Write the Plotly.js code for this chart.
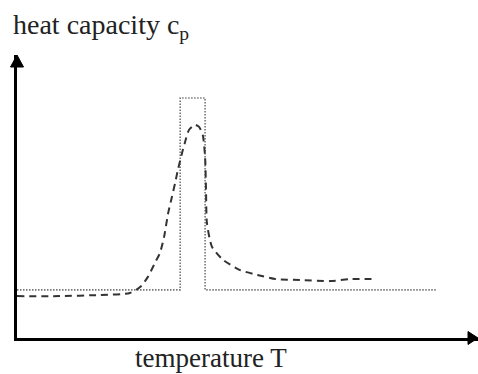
<!DOCTYPE html>
<html>
<head>
<meta charset="utf-8">
<script src="https://cdn.plot.ly/plotly-3.0.1.min.js"></script>
<style>html,body{margin:0;padding:0;background:#fff;}#chart{width:478px;height:374px;}</style>
</head>
<body>
<div id="chart"></div>
<script>
// Idealised transition (dotted): temperature and heat capacity (arbitrary units)
var idealT  = [0, 35.4, 35.4, 40.8, 40.8, 91.1];
var idealCp = [17.0, 17.0, 84.8, 84.8, 17.0, 17.0];

// Measured transition (dashed)
var measT  = [0, 9.3, 18.0, 24.5, 26.7, 28.4, 29.9, 31.0, 31.9, 32.8, 33.6, 34.3, 34.9, 35.8, 36.4, 37.3, 38.6, 39.5, 40.3, 40.8, 41.0, 41.2, 42.3, 44.7, 48.4, 52.1, 56.2, 61.4, 67.9, 72.2, 77.7];
var measCp = [14.8, 14.8, 15.2, 15.9, 18.0, 21.6, 26.5, 30.0, 35.7, 44.2, 49.8, 54.8, 59.4, 65.4, 68.9, 73.5, 75.3, 74.6, 71.7, 64.0, 52.3, 40.6, 32.2, 27.6, 24.0, 22.3, 20.8, 20.5, 20.1, 20.8, 20.8];

var yLabel = 'heat capacity c<sub>p</sub>';
var xLabel = 'temperature T';

var traces = [
  {x: idealT, y: idealCp, mode: 'lines', type: 'scatter',
   line: {color: '#777', width: 1.6, dash: '1.5px,1.5px'}, hoverinfo: 'skip'},
  {x: measT, y: measCp, mode: 'lines', type: 'scatter', line: {shape: 'spline', smoothing: 0.6,
   color: '#333', width: 2, dash: '7px,5px'}, hoverinfo: 'skip'}
];

// arrowhead sizes in paper units (plot area is 461 x 283 px)
var hx = 10 / 461, hy = 6.5 / 283, vx = 6.5 / 461, vy = 12 / 283;
var layout = {
  width: 478, height: 374,
  margin: {l: 17, r: 0, t: 55, b: 36},
  paper_bgcolor: '#fff', plot_bgcolor: '#fff',
  showlegend: false,
  xaxis: {range: [0, 100], showgrid: false, zeroline: false, showticklabels: false, ticks: '',
          showline: true, linecolor: '#000', linewidth: 2.5},
  yaxis: {range: [0, 100], showgrid: false, zeroline: false, showticklabels: false, ticks: '',
          showline: true, linecolor: '#000', linewidth: 2.5},
  shapes: [
    {type: 'path', xref: 'paper', yref: 'paper', layer: 'above',
     path: 'M 1 0 L ' + (1 - hx) + ' ' + hy + ' L ' + (1 - hx) + ' ' + (-hy) + ' Z',
     fillcolor: '#000', line: {color: '#000', width: 1}},
    {type: 'path', xref: 'paper', yref: 'paper', layer: 'above',
     path: 'M 0 1 L ' + vx + ' ' + (1 - vy) + ' L ' + (-vx) + ' ' + (1 - vy) + ' Z',
     fillcolor: '#000', line: {color: '#000', width: 1}}
  ],
  annotations: [
    {xref: 'paper', yref: 'paper', x: -0.012, y: 1, yshift: 9, xanchor: 'left', yanchor: 'bottom',
     showarrow: false, text: yLabel, font: {family: 'Liberation Serif', size: 28, color: '#222'}},
    {xref: 'paper', yref: 'paper', x: 0.421, y: 0, yshift: -3, xanchor: 'center', yanchor: 'top',
     showarrow: false, text: xLabel, font: {family: 'Liberation Serif', size: 27, color: '#222'}}
  ]
};

Plotly.newPlot('chart', traces, layout, {displayModeBar: false});
</script>
</body>
</html>
